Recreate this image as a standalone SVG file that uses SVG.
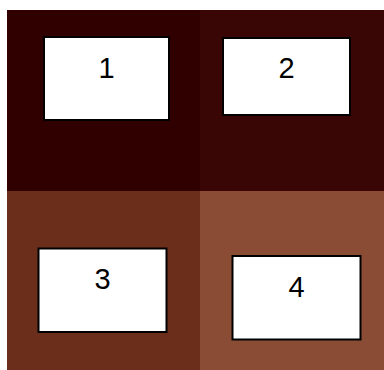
<svg xmlns="http://www.w3.org/2000/svg" width="384" height="370" viewBox="0 0 384 370">
<style>
.box{fill:#ffffff;stroke:#000000;stroke-width:2}
.lbl{font-family:"Liberation Sans",Arial,sans-serif;font-size:29px;fill:#000000;text-anchor:middle}
</style>
<rect width="384" height="370" fill="#ffffff"/>
<g id="quadrants">
<rect x="7" y="10" width="193" height="181" fill="#300000"/>
<rect x="200" y="10" width="184" height="181" fill="#3a0605"/>
<rect x="7" y="191" width="193" height="179" fill="#6b2e1a"/>
<rect x="200" y="191" width="184" height="179" fill="#8b4c36"/>
</g>
<g id="node1"><rect class="box" x="44" y="37" width="125" height="83"/><text class="lbl" x="106.5" y="77.5">1</text></g>
<g id="node2"><rect class="box" x="223" y="38" width="127" height="77"/><text class="lbl" x="286.5" y="78">2</text></g>
<g id="node3"><rect class="box" x="38.5" y="248.5" width="128" height="83.5"/><text class="lbl" x="102.5" y="289">3</text></g>
<g id="node4"><rect class="box" x="232.5" y="256" width="128" height="83.5"/><text class="lbl" x="296.5" y="296.5">4</text></g>
<g id="connectors"></g>
</svg>
